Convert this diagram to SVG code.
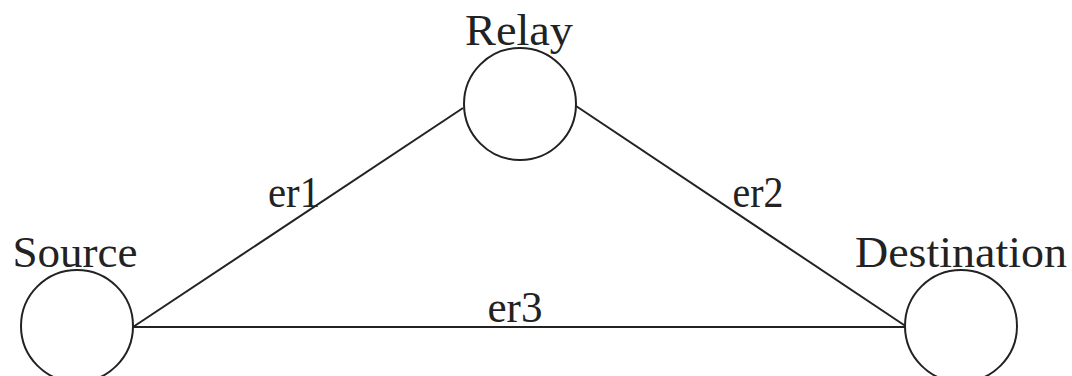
<svg xmlns="http://www.w3.org/2000/svg" width="1072" height="376" viewBox="0 0 1072 376">
<style>
.node{fill:#fff;stroke:#222;stroke-width:2}
.edge{stroke:#222;stroke-width:2;fill:none}
text{font-family:"Liberation Serif","Times New Roman",serif;font-size:44px;fill:#222}
</style>
<rect width="1072" height="376" fill="#fff"/>
<g id="connectors">
<line class="edge" x1="133" y1="327" x2="463" y2="108"/>
<line class="edge" x1="576" y1="106" x2="907" y2="327"/>
<line class="edge" x1="133" y1="327" x2="907" y2="327"/>
<text x="294" y="207" text-anchor="middle" textLength="52" lengthAdjust="spacingAndGlyphs">er1</text>
<text x="758" y="207" text-anchor="middle" textLength="51" lengthAdjust="spacingAndGlyphs">er2</text>
<text x="515" y="322" text-anchor="middle" textLength="55" lengthAdjust="spacingAndGlyphs">er3</text>
</g>
<g id="relay">
<circle class="node" cx="520" cy="104" r="56"/>
<text x="519" y="45" text-anchor="middle" textLength="108" lengthAdjust="spacingAndGlyphs">Relay</text>
</g>
<g id="source">
<circle class="node" cx="77" cy="326" r="56"/>
<text x="75" y="267" text-anchor="middle" textLength="125" lengthAdjust="spacingAndGlyphs">Source</text>
</g>
<g id="destination">
<circle class="node" cx="961" cy="326" r="56"/>
<text x="961" y="267" text-anchor="middle" textLength="212" lengthAdjust="spacingAndGlyphs">Destination</text>
</g>
</svg>
